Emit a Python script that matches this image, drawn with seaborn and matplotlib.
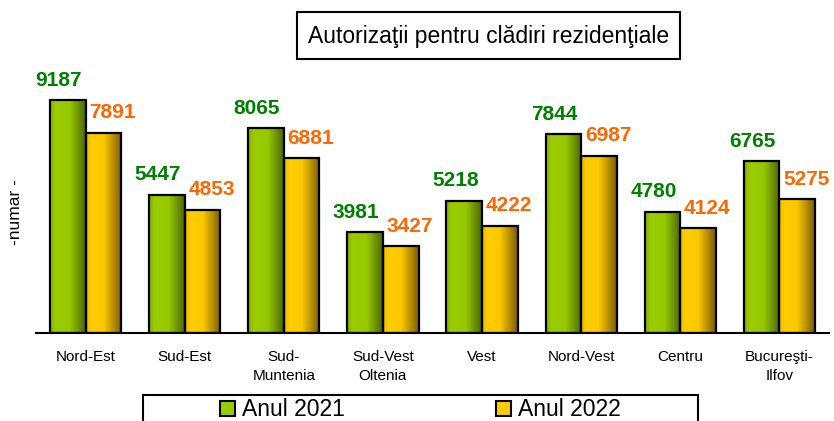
import numpy as np
import pandas as pd
import seaborn as sns
import matplotlib.pyplot as plt
from matplotlib.colors import LinearSegmentedColormap
from matplotlib.patches import Patch, Rectangle

# Data
regiuni = ["Nord-Est", "Sud-Est", "Sud-\nMuntenia", "Sud-Vest\nOltenia", "Vest",
           "Nord-Vest", "Centru", "Bucureşti-\nIlfov"]
ani = ["Anul 2021", "Anul 2022"]
val_2021 = [9187, 5447, 8065, 3981, 5218, 7844, 4780, 6765]
val_2022 = [7891, 4853, 6881, 3427, 4222, 6987, 4124, 5275]

df = pd.DataFrame({
    "regiune": regiuni * 2,
    "an": [ani[0]] * len(regiuni) + [ani[1]] * len(regiuni),
    "valoare": val_2021 + val_2022,
})

sns.set_style("white")
plt.rcParams['font.family'] = ['Liberation Sans', 'DejaVu Sans']
plt.rcParams['text.color'] = 'black'
plt.rcParams['xtick.color'] = 'black'
plt.rcParams['xtick.labelcolor'] = 'black'

W, H = 834, 421
fig = plt.figure(figsize=(W / 100, H / 100), dpi=100)
ax = fig.add_axes([36 / W, 1 - 333 / H, 793 / W, 253.6 / H])

palette = {ani[0]: "#99cc00", ani[1]: "#ffcc00"}
sns.barplot(data=df, x="regiune", y="valoare", hue="an", palette=palette,
            width=0.72, edgecolor="black", linewidth=1.6, legend=False, ax=ax)

# gradient fill (light left -> dark right) clipped to each bar
cmaps = [LinearSegmentedColormap.from_list("g", [(0, "#82b000"), (0.15, "#99cc00"), (0.55, "#97c900"), (1, "#4a6600")]),
         LinearSegmentedColormap.from_list("y", [(0, "#e8b800"), (0.15, "#ffcc00"), (0.5, "#fcc900"), (1, "#7a5c00")])]
grad = np.linspace(0, 1, 256).reshape(1, -1)
label_cols = ["#008000", "#ff6600"]
offsets = [-9, 9]
for i, cont in enumerate(ax.containers):
    for bar, v in zip(cont, cont.datavalues):
        x, w, h = bar.get_x(), bar.get_width(), bar.get_height()
        bar.set_facecolor("none")
        bar.set_zorder(3)
        im = ax.imshow(grad, extent=[x, x + w, 0, h], aspect="auto",
                       cmap=cmaps[i], zorder=2)
        im.set_clip_path(bar)
        ax.annotate(f"{int(v)}", (x + w / 2, h), xytext=(offsets[i], 20),
                    textcoords="offset pixels", ha="center", va="center",
                    fontsize=15, fontweight="bold", color=label_cols[i],
                    annotation_clip=False)

ax.set_xlim(-0.5, 7.5)
ax.set_ylim(0, 10000)
ax.set_xlabel("")
ax.set_ylabel("")
ax.set_yticks([])
for s in ["left", "right", "top"]:
    ax.spines[s].set_visible(False)
ax.spines["bottom"].set_linewidth(1.5)
ax.spines["bottom"].set_color("black")

ax.set_xticks(np.arange(len(regiuni)))
ax.set_xticklabels(regiuni, fontsize=11, linespacing=1.45)
ax.set_xticks(np.arange(-0.5, len(regiuni)), minor=True)
ax.tick_params(axis="x", which="major", length=0, pad=12)
ax.tick_params(axis="x", which="minor", length=6, width=1.5, color="black", direction="out")

fig.text(15 / W, 1 - 212 / H, "-numar -", rotation=90, ha="center", va="center", fontsize=12.5)

# title box
fig.patches.append(Rectangle((297 / W, 1 - 59 / H), 383 / W, 47 / H, transform=fig.transFigure,
                             facecolor="white", edgecolor="black", linewidth=1.5))
fig.text(488.5 / W, 1 - 36 / H, "Autorizaţii pentru clădiri rezidenţiale",
         ha="center", va="center", fontsize=16.5)

# legend box
fig.patches.append(Rectangle((143 / W, -0.1), 555 / W, 0.1 + 1 - 395 / H, transform=fig.transFigure,
                             facecolor="white", edgecolor="black", linewidth=1.5))
handles = [Patch(facecolor="#99cc00", edgecolor="black", linewidth=1.5),
           Patch(facecolor="#ffcc00", edgecolor="black", linewidth=1.5)]
fig.legend(handles, ani, loc="center left", bbox_to_anchor=(220 / W, 1 - 410 / H),
           ncol=2, frameon=False, fontsize=16.5, handlelength=0.65, handleheight=0.65,
           handletextpad=0.3, columnspacing=6.6, borderpad=0, borderaxespad=0)

fig.savefig("out.png", dpi=100)
